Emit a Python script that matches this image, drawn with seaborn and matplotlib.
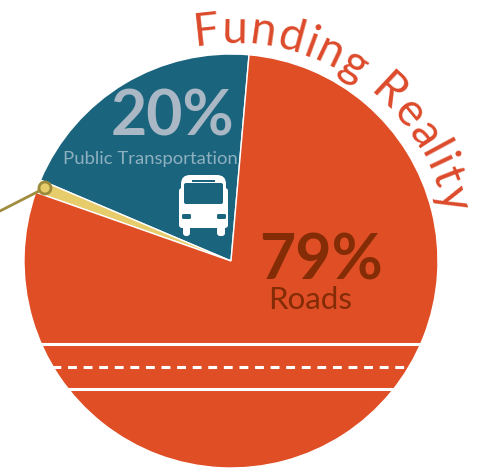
import numpy as np
import matplotlib
matplotlib.use('Agg')
import matplotlib.pyplot as plt
import seaborn as sns
from matplotlib.font_manager import FontProperties
from matplotlib.patches import Circle, FancyBboxPatch, Rectangle
from matplotlib.textpath import TextToPath

categories = ['Public Transportation', 'Other', 'Roads']
shares = [20, 1, 79]
slice_colors = ['#1a657d', '#e6cc6a', '#e04e26']
title = 'Funding Reality'

W, H = 479, 468
sns.set_theme(style='white')
plt.rcParams['font.family'] = ['Lato', 'DejaVu Sans']

fig = plt.figure(figsize=(W / 100, H / 100), dpi=100)
ax = fig.add_axes([0, 0, 1, 1])

cx, cy, radius = 231, 207, 207
ax.pie(shares, colors=sns.color_palette(slice_colors), startangle=85, counterclock=True,
       center=(cx, cy), radius=radius, frame=True)
ax.set_xlim(0, W)
ax.set_ylim(0, H)
ax.set_aspect('equal')
ax.axis('off')


def py(y):
    # the reference is easier to read from the top down
    return H - y


# road markings, clipped to the roads slice
road = ax.patches[2]
for y, style in [(344, '-'), (367, (3.4, (2.9, 2.2))), (389, '-')]:
    line, = ax.plot([0, W], [py(y), py(y)], color='white', lw=2.2, ls=style, solid_capstyle='butt',
                    dash_capstyle='butt')
    line.set_clip_path(road)

# leader line and dot for the tiny slice
ax.plot([0, 45], [py(211), py(188)], color='#a08c3e', lw=2, zorder=4)
ax.add_patch(Circle((45, py(188)), 6, fc='#e6cc6a', ec='#9c8a3c', lw=2, zorder=5))

# bus icon
bus = dict(fc='white', ec='none', zorder=5)
ax.add_patch(FancyBboxPatch((181, py(228)), 45, 53, boxstyle='round,pad=0,rounding_size=9', **bus))
ax.add_patch(FancyBboxPatch((179, py(228)), 49, 40, boxstyle='round,pad=0,rounding_size=3', **bus))
ax.add_patch(FancyBboxPatch((183, py(236)), 7, 10, boxstyle='round,pad=0,rounding_size=3', **bus))
ax.add_patch(FancyBboxPatch((217, py(236)), 8, 10, boxstyle='round,pad=0,rounding_size=3', **bus))
hole = dict(fc=slice_colors[0], ec='none', zorder=6)
ax.add_patch(FancyBboxPatch((184, py(204)), 39, 21, boxstyle='round,pad=0,rounding_size=2', **hole))
ax.add_patch(Rectangle((192, py(182)), 23, 2.5, **hole))
ax.add_patch(FancyBboxPatch((182, py(219)), 9, 5, boxstyle='round,pad=0,rounding_size=1.5', **hole))
ax.add_patch(FancyBboxPatch((217, py(219)), 9, 5, boxstyle='round,pad=0,rounding_size=1.5', **hole))

# labels
ax.text(172, py(135), f'{shares[0]}%', color='#aab8c6', fontsize=45, fontweight='bold',
        family='Lato', ha='center', va='baseline')
ax.text(150, py(164), categories[0], color='#8fb0c0', fontsize=13.3,
        family='Lato', ha='center', va='baseline')
ax.text(321, py(279), f'{shares[2]}%', color='#832c05', fontsize=45, fontweight='bold',
        family='Lato', ha='center', va='baseline')
ax.text(310, py(309), categories[2], color='#832c05', fontsize=22.5,
        family='Lato', ha='center', va='baseline')

# title bent along the top right of the pie
title_size = 33
title_radius = 218
title_start = 99.5  # degrees, where the F starts
tracking = 1.3  # extra pixels between letters, the original face is wider
prop = FontProperties(family='Lato', size=title_size)
measure = TextToPath()


def advance(s):
    # width of s in pixels; a trailing x keeps any trailing space counted
    w = measure.get_text_width_height_descent(s + 'x', prop, False)[0]
    x = measure.get_text_width_height_descent('x', prop, False)[0]
    return (w - x) * 100 / 72


for i, ch in enumerate(title):
    mid = advance(title[:i]) + advance(ch) / 2 + tracking * i
    ang = title_start - np.degrees(mid / title_radius)
    ax.text(cx + title_radius * np.cos(np.radians(ang)), cy + title_radius * np.sin(np.radians(ang)),
            ch, color='#dc4a2a', fontproperties=prop, rotation=ang - 90, rotation_mode='anchor',
            ha='center', va='baseline')

fig.savefig('out.png', dpi=100)
